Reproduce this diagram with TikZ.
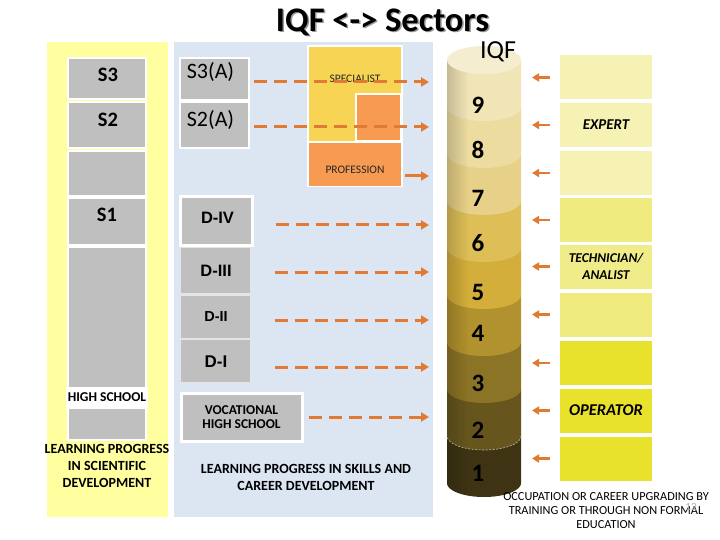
\documentclass[tikz,border=0pt]{standalone}
\usepackage{fontspec}
\setmainfont{Carlito}
\newfontfamily\arialfont{Liberation Sans}
\usetikzlibrary{arrows.meta,fadings}
\definecolor{panelY}{HTML}{FFFFA0}
\definecolor{panelB}{HTML}{DCE6F2}
\definecolor{boxG}{HTML}{BFBFBF}
\definecolor{specY}{HTML}{F8D454}
\definecolor{profO}{HTML}{F79A52}
\definecolor{arrO}{HTML}{E07A35}
\definecolor{rPale}{HTML}{F5F2B4}
\definecolor{rMid}{HTML}{EFEB7E}
\definecolor{rBright}{HTML}{E8E22C}
\definecolor{cTop}{HTML}{F4EDCF}
\definecolor{cl9}{HTML}{F1E4B6}
\definecolor{cl8}{HTML}{ECDCA0}
\definecolor{cl7}{HTML}{E7D088}
\definecolor{cl6}{HTML}{DDBE57}
\definecolor{cl5}{HTML}{D3AE3A}
\definecolor{cl4}{HTML}{B1922E}
\definecolor{cl3}{HTML}{8C7426}
\definecolor{cl2}{HTML}{66561E}
\definecolor{cl1}{HTML}{3E3414}
\newcommand{\myfs}[2]{\fontsize{#1}{#2}\selectfont}
\begin{document}
\begin{tikzpicture}[x=1pt,y=-1pt,
  graybox/.style={fill=boxG, draw=white, line width=2pt, inner sep=0pt},
  rbox/.style={draw=white, line width=2pt, minimum width=94pt, minimum height=46pt, inner sep=0pt, align=center, font=\myfs{15}{17}\bfseries\itshape},
  txt/.style={inner sep=0pt, align=center},
  dasharrow/.style={draw=arrO, line width=3pt, dash pattern=on 13pt off 7pt, -{Triangle[length=8pt,width=9pt]}},
  sarrow/.style={draw=arrO, line width=2.5pt, -{Triangle[length=7pt,width=8pt]}},
  num/.style={inner sep=0pt, font=\myfs{25}{25}\bfseries},
  dlab/.style={inner sep=0pt, font=\arialfont\bfseries}
]
\useasboundingbox (0,0) rectangle (720,540);
\fill[white] (0,0) rectangle (720,540);

% panels
\fill[panelY] (47,42) rectangle (168,517);
\fill[panelB] (174,42) rectangle (433,517);

% title
\node[txt, font=\myfs{34.5}{34.5}\bfseries, text=black!40] (titleshadow) at (384,23.5) {IQF <-> Sectors};
\node[txt, font=\myfs{34.5}{34.5}\bfseries] (title) at (382.5,22) {IQF <-> Sectors};

% left column
\node[graybox, minimum width=78pt, minimum height=41pt] (s3box) at (107,78.5) {};
\node[txt, font=\myfs{20.5}{20.5}\bfseries] (s3) at (108,75) {S3};
\node[graybox, minimum width=78pt, minimum height=46pt] (s2box) at (107,125) {};
\node[txt, font=\myfs{20.5}{20.5}\bfseries] (s2) at (108,120) {S2};
\node[graybox, minimum width=78pt, minimum height=45pt] (sblank) at (107,173.5) {};
\node[graybox, minimum width=78pt, minimum height=47pt] (s1box) at (107,221.5) {};
\node[txt, font=\myfs{20.5}{20.5}\bfseries] (s1) at (107,215) {S1};
\node[graybox, minimum width=78pt, minimum height=141pt] (sbig) at (107,317.5) {};
\node[graybox, minimum width=78pt, minimum height=32pt] (hsbox) at (107,423.5) {};
\node[txt, fill=white, minimum width=82pt, minimum height=21pt, font=\myfs{13.5}{13.5}\bfseries] (hs) at (107,397.5) {HIGH SCHOOL};
\node[txt, font=\myfs{14}{17}\bfseries] (lpsci) at (107,466) {LEARNING PROGRESS\\IN SCIENTIFIC\\DEVELOPMENT};

% middle column
\node[graybox, minimum width=69pt, minimum height=42pt] (s3abox) at (214.5,79) {};
\node[txt, font=\myfs{22}{22}] (s3a) at (210.5,72) {S3(A)};
\node[graybox, minimum width=69pt, minimum height=46pt] (s2abox) at (214.5,125) {};
\node[txt, font=\myfs{22}{22}] (s2a) at (210.5,120) {S2(A)};

\node[graybox, line width=3pt, minimum width=72pt, minimum height=48pt] (d4box) at (216,221) {};
\node[dlab, font=\arialfont\bfseries\myfs{16.5}{16.5}] (d4) at (217.5,218) {D-IV};
\node[graybox, line width=1pt, draw=white!60!boxG, minimum width=70pt, minimum height=46pt] (d3box) at (215,270) {};
\node[dlab, font=\arialfont\bfseries\myfs{16.5}{16.5}] (d3) at (216,271) {D-III};
\node[graybox, line width=1pt, draw=white!60!boxG, minimum width=70pt, minimum height=43pt] (d2box) at (215,316.5) {};
\node[dlab, font=\arialfont\bfseries\myfs{14.5}{14.5}] (d2) at (216,317) {D-II};
\node[graybox, line width=1pt, draw=white!60!boxG, minimum width=70pt, minimum height=43pt] (d1box) at (215,360.5) {};
\node[dlab, font=\arialfont\bfseries\myfs{17}{17}] (d1) at (216,362) {D-I};

\node[graybox, line width=3pt, minimum width=121pt, minimum height=48pt, font=\myfs{13.5}{14.5}\bfseries, align=center] (voc) at (241.5,417) {VOCATIONAL\\HIGH SCHOOL};
\node[txt, font=\myfs{14}{17}\bfseries] (lpskill) at (306,477.5) {LEARNING PROGRESS IN SKILLS AND\\CAREER DEVELOPMENT};

% specialist / profession block
\node[fill=white, minimum width=96pt, minimum height=142pt, inner sep=0pt] (specblock) at (355,116) {};
\node[fill=specY, minimum width=92pt, minimum height=94pt, inner sep=0pt] (specbox) at (355,94) {};
\node[fill=profO, draw=white, line width=2pt, minimum width=45pt, minimum height=47pt, inner sep=0pt] (orbox) at (378.5,117.5) {};
\node[fill=profO, minimum width=92pt, minimum height=43pt, inner sep=0pt] (profbox) at (355,164.5) {};
\node[txt, font=\myfs{11.5}{11.5}, text=black!85] (spec) at (355,79) {SPECIALIST};
\node[txt, font=\myfs{11.5}{11.5}, text=black!85] (prof) at (355,170) {PROFESSION};

% arrow targets on the IQF side
\coordinate (t9) at (429,82);
\coordinate (t8) at (429,127);
\coordinate (tp) at (429,176);
\coordinate (t6) at (429,225);
\coordinate (t5) at (429,272);
\coordinate (t4) at (429,320);
\coordinate (t3) at (429,367);
\coordinate (t2) at (429,417);

\draw[dasharrow] ([xshift=4pt]s3abox.east |- t9) -- (t9);
\draw[dasharrow] ([xshift=4pt]s2abox.east |- t8) -- (t8);
\draw[dasharrow, dash pattern=on 20pt off 0pt] ([xshift=4pt]profbox.east |- tp) -- (tp);
\draw[dasharrow] ([xshift=22pt]d4box.east |- t6) -- (t6);
\draw[dasharrow] ([xshift=24pt]d3box.east |- t5) -- (t5);
\draw[dasharrow] ([xshift=24pt]d2box.east |- t4) -- (t4);
\draw[dasharrow] ([xshift=24pt]d1box.east |- t3) -- (t3);
\draw[dasharrow] ([xshift=5pt]voc.east |- t2) -- (t2);

% IQF cylinder
\foreach \n/\col in {1/cl1,2/cl2,3/cl3,4/cl4,5/cl5,6/cl6,7/cl7,8/cl8,9/cl9}{
  \pgfmathsetmacro{\yb}{483-47*(\n-1)}
  \pgfmathsetmacro{\yt}{\yb-47}
  \fill[\col] (447,\yt) -- (521,\yt) -- plot[domain=0:180,samples=37] ({484+37*cos(\x)},{\yb+14*sin(\x)}) -- cycle;
}
% soft darkening of the left side of the body
\fill[black, opacity=0.18, path fading=east] (447,60) -- (468,60) -- (468,497) -- plot[domain=124:180,samples=15] ({484+37*cos(\x)},{483+14*sin(\x)}) -- cycle;
\draw[white!60!cl2, line width=0.6pt, dash pattern=on 2pt off 1.5pt] plot[domain=0:180,samples=37] ({484+37*cos(\x)},{436+14*sin(\x)});
\fill[cTop] (484,60) ellipse [x radius=37, y radius=14];
\node[txt, font=\myfs{26}{26}] (iqf) at (498,52) {IQF};
\node[num] (n9) at (478,105) {9};
\node[num] (n8) at (478,150) {8};
\node[num] (n7) at (478,198) {7};
\node[num] (n6) at (478,243) {6};
\node[num] (n5) at (478,292) {5};
\node[num] (n4) at (478,333) {4};
\node[num] (n3) at (478,383) {3};
\node[num] (n2) at (478,430) {2};
\node[num] (n1) at (478,473) {1};

% right column
\node[rbox, fill=rPale] (rb1) at (606,77.5) {};
\node[rbox, fill=rPale] (rb2) at (606,125) {EXPERT};
\node[rbox, fill=rPale] (rb3) at (606,173) {};
\node[rbox, fill=rMid] (rb4) at (606,220) {};
\node[rbox, fill=rMid!80!rPale, font=\myfs{13.5}{17}\bfseries\itshape] (rb5) at (606,266.5) {TECHNICIAN/\\ANALIST};
\node[rbox, fill=rMid] (rb6) at (606,314.5) {};
\node[rbox, fill=rBright] (rb7) at (606,363) {};
\node[rbox, fill=rBright, font=\myfs{16.5}{17}\bfseries\itshape] (rb8) at (606,410.5) {OPERATOR};
\node[rbox, fill=rBright] (rb9) at (606,458.5) {};

\foreach \i in {1,...,9}{
  \draw[sarrow] ([xshift=-8pt]rb\i.west) -- ([xshift=-26pt]rb\i.west);
}

\node[txt, font=\myfs{12.3}{14}] (occ) at (606,511) {OCCUPATION OR CAREER UPGRADING BY\\TRAINING OR THROUGH NON FORMAL\\EDUCATION};
\node[txt, font=\myfs{11}{11}, text=black!30] (pnum) at (691,507) {12};
\end{tikzpicture}
\end{document}
